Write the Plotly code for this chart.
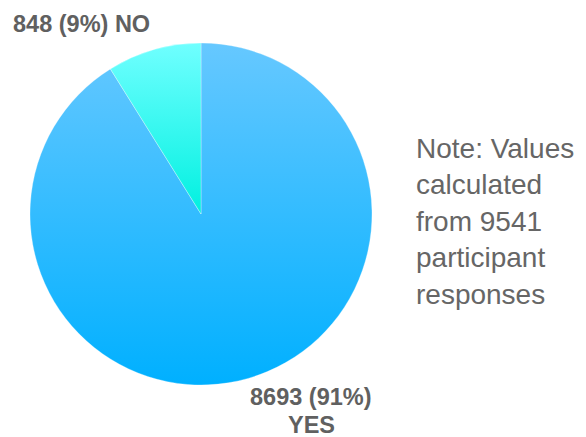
import plotly.graph_objects as go

labels = ["YES", "NO"]
values = [8693, 848]
total_responses = 9541
solid_colors = ["#40c0ff", "#4dfaf5"]
grad_top = ["#66c8ff", "#70ffff"]
grad_bottom = ["#00b0ff", "#00f0e0"]

W, H = 586, 437
cx, cy, r = 201, 214, 171

fig = go.Figure(go.Pie(
    labels=labels, values=values, sort=False, direction="clockwise",
    textinfo="none", hoverinfo="label+value+percent",
    marker=dict(colors=solid_colors, line=dict(color="rgba(255,255,255,0.6)", width=0.5)),
    domain=dict(x=[(cx - r) / W, (cx + r) / W], y=[(H - cy - r) / H, (H - cy + r) / H]),
    showlegend=False,
))

tot = sum(values)
pcts = [round(v * 100 / tot) for v in values]
font_lbl = dict(family="Liberation Sans, Arial, sans-serif", size=23.5, color="#606060")

fig.add_annotation(x=11 / W, y=(H - 24) / H, xref="paper", yref="paper", xanchor="left", yanchor="middle",
                   text=f"<b>{values[1]} ({pcts[1]}%) {labels[1]}</b>", showarrow=False, font=font_lbl)
fig.add_annotation(x=311 / W, y=(H - 397) / H, xref="paper", yref="paper", xanchor="center", yanchor="middle",
                   text=f"<b>{values[0]} ({pcts[0]}%)</b>", showarrow=False, font=font_lbl)
fig.add_annotation(x=311 / W, y=(H - 425) / H, xref="paper", yref="paper", xanchor="center", yanchor="middle",
                   text=f"<b>{labels[0]}</b>", showarrow=False, font=font_lbl)
fig.add_annotation(x=414 / W, y=(H - 221) / H, xref="paper", yref="paper", xanchor="left", yanchor="middle",
                   text=f"Note: Values<br>calculated<br>from {total_responses}<br>participant<br>responses",
                   showarrow=False, align="left",
                   font=dict(family="Liberation Sans, Arial, sans-serif", size=28, color="#666666"))

fig.update_layout(width=W, height=H, margin=dict(l=0, r=0, t=0, b=0),
                  paper_bgcolor="white", plot_bgcolor="white")

post = """
(function(){
  document.body.style.margin = '0';
  document.body.style.padding = '0';
  var gd = document.getElementById('{plot_id}');
  var tops = %s, bots = %s;
  function apply(){
    var svg = gd.querySelector('svg.main-svg');
    if(!svg) return;
    var ns = 'http://www.w3.org/2000/svg';
    var defs = svg.querySelector('defs');
    if(!defs){ defs = document.createElementNS(ns,'defs'); svg.insertBefore(defs, svg.firstChild); }
    for(var i=0;i<tops.length;i++){
      var id = 'slicegrad'+i;
      if(!document.getElementById(id)){
        var g = document.createElementNS(ns,'linearGradient');
        g.setAttribute('id', id); g.setAttribute('x1','0'); g.setAttribute('y1','0');
        g.setAttribute('x2','0'); g.setAttribute('y2','1');
        var s1 = document.createElementNS(ns,'stop'); s1.setAttribute('offset','0'); s1.setAttribute('stop-color', tops[i]);
        var s2 = document.createElementNS(ns,'stop'); s2.setAttribute('offset','1'); s2.setAttribute('stop-color', bots[i]);
        g.appendChild(s1); g.appendChild(s2); defs.appendChild(g);
      }
    }
    var slices = gd.querySelectorAll('g.slice');
    slices.forEach(function(s, k){
      var d = s.__data__;
      var i = (d && d.length && d[0] && typeof d[0].i === 'number') ? d[0].i : ((d && typeof d.i === 'number') ? d.i : k);
      var p = s.querySelector('path.surface');
      if(p){ p.style.fill = 'url(#slicegrad'+i+')'; }
    });
  }
  apply();
  if(gd.on){ gd.on('plotly_afterplot', apply); }
  setTimeout(apply, 50);
})();
""" % (str(grad_top).replace("'", '"'), str(grad_bottom).replace("'", '"'))

fig.write_html("out.html", post_script=post, config={"displayModeBar": False})
